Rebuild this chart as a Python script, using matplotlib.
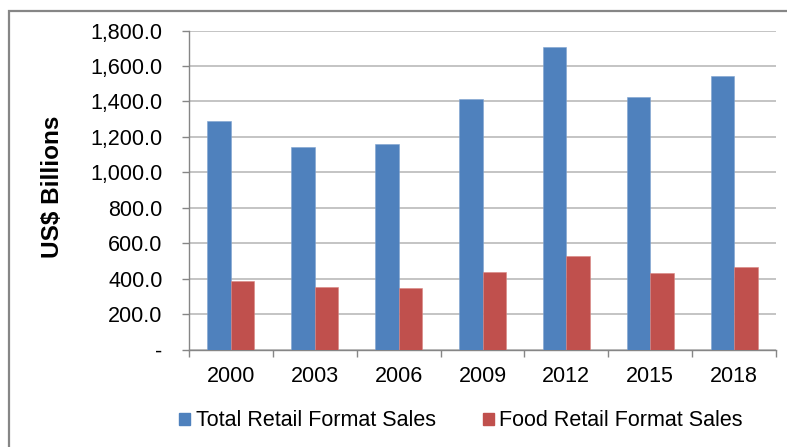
import numpy as np
import matplotlib
matplotlib.use("Agg")
import matplotlib.pyplot as plt
from matplotlib.patches import Rectangle, Patch
from matplotlib.ticker import FuncFormatter, FixedLocator

# data (US$ billions)
years = ["2000", "2003", "2006", "2009", "2012", "2015", "2018"]
total_sales = [1291, 1141, 1158, 1412, 1709, 1423, 1543]
food_sales = [388, 351, 345, 437, 528, 432, 466]
y_ticks = [0, 200, 400, 600, 800, 1000, 1200, 1400, 1600, 1800]

blue = "#4F81BD"
red = "#C0504D"
grid_col = "#BFBFBF"
axis_col = "#868686"
fs = 15.5

plt.rcParams["font.family"] = ["Liberation Sans", "DejaVu Sans"]

fig = plt.figure(figsize=(7.87, 4.47), dpi=100)
ax = fig.add_axes([189 / 787, 1 - 349.5 / 447, 587 / 787, 319 / 447])

x = np.arange(len(years))
w = 0.28
ax.bar(x - w / 2, total_sales, w, color=blue, edgecolor="#7FA3D0", linewidth=0.4,
       label="Total Retail Format Sales", zorder=3)
ax.bar(x + w / 2, food_sales, w, color=red, edgecolor="#D88582", linewidth=0.4,
       label="Food Retail Format Sales", zorder=3)

ax.set_xlim(-0.5, len(years) - 0.5)
ax.set_ylim(0, 1800)

# y axis
ax.set_yticks(y_ticks)
ax.yaxis.set_major_formatter(FuncFormatter(lambda v, p: "-" if v == 0 else f"{v:,.1f}"))
ax.tick_params(axis="y", length=5, width=1, color=axis_col, pad=14, labelsize=fs)
ax.grid(axis="y", color=grid_col, linewidth=1.3, zorder=0)

# x axis: labels at centres, tick marks at category boundaries
ax.set_xticks(x)
ax.set_xticklabels(years)
ax.xaxis.set_minor_locator(FixedLocator(np.arange(len(years) + 1) - 0.5))
ax.tick_params(axis="x", which="major", length=0, pad=12, labelsize=fs)
ax.tick_params(axis="x", which="minor", length=5, width=1, color=axis_col)

for s in ["top", "right"]:
    ax.spines[s].set_visible(False)
for s in ["left", "bottom"]:
    ax.spines[s].set_color(axis_col)
    ax.spines[s].set_linewidth(1)

fig.text(53 / 787, 1 - 187 / 447, "US$ Billions", rotation=90, ha="center",
         va="center", fontsize=17.5, fontweight="bold")

handles = [Patch(color=blue), Patch(color=red)]
fig.legend(handles, ["Total Retail Format Sales", "Food Retail Format Sales"],
           loc="center", bbox_to_anchor=(461 / 787, 1 - 421 / 447), ncol=2,
           frameon=False, fontsize=fs, handlelength=0.5, handleheight=0.5,
           handletextpad=0.25, columnspacing=2.2)

# outer chart frame (only top and left edges fall inside the image)
fig.add_artist(Rectangle((9 / 787, -0.2), 1.2, 0.2 + 1 - 10.7 / 447,
                         transform=fig.transFigure, fill=False,
                         edgecolor=axis_col, linewidth=1.6, clip_on=False))

fig.savefig("out.png", dpi=100)
